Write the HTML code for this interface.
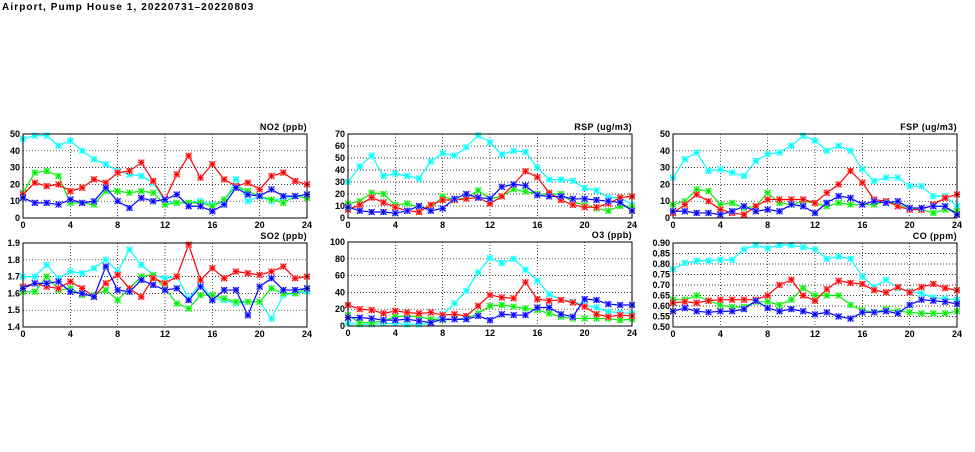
<!DOCTYPE html>
<html><head><meta charset="utf-8"><style>
body{margin:0;background:#fff;}
svg text{font-family:"Liberation Sans",sans-serif;font-weight:bold;font-size:9px;fill:#000;}
</style></head><body>
<svg id="s" width="975" height="447" xmlns="http://www.w3.org/2000/svg">
<text x="2" y="10" style="font-size:10px;letter-spacing:1.1px">Airport, Pump House 1, 20220731–20220803</text>
</svg>
<script>
const S=document.getElementById('s');const NS='http://www.w3.org/2000/svg';
function el(t,a,txt){const e=document.createElementNS(NS,t);for(const k in a)e.setAttribute(k,a[k]);if(txt!==undefined)e.textContent=txt;S.appendChild(e);return e;}
const cols={c:'#00ffff',g:'#00ee00',r:'#ff0000',b:'#0000ff'};
const light={c:'#aaffff',g:'#aaffaa',r:'#ffaaaa',b:'#aaaaff'};
const panels=[
{x0:23,x1:307,y0:134,y1:218,min:0,max:50,ticks:[0,10,20,30,40,50],fmt:v=>v,title:'NO2 (ppb)',
 d:{c:[47,49,49,43,46,40,35,32,28,26,25,21,10,9,9,10,8,9,23,10,13,10,12,13,12],
 g:[15,27,28,25,9,9,8,16,16,15,16,15,8,9,9,9,7,11,19,16,13,11,9,13,12],
 r:[14,21,19,20,16,18,23,21,27,28,33,22,11,26,37,24,32,23,19,21,17,25,27,22,20],
 b:[12,9,9,8,11,9,10,18,10,6,12,10,11,14,7,7,4,8,18,14,13,17,13,13,14]}},
{x0:348,x1:632,y0:134,y1:218,min:0,max:70,ticks:[0,10,20,30,40,50,60,70],fmt:v=>v,title:'RSP (ug/m3)',
 d:{c:[30,43,52,35,37,35,33,47,54,52,59,69,63,53,56,55,42,32,32,31,25,23,17,17,11],
 g:[12,14,21,20,11,12,9,8,18,15,17,23,16,18,24,22,20,20,20,13,11,8,6,10,9],
 r:[7,11,17,13,9,6,5,11,15,15,16,17,12,18,28,39,34,21,15,11,9,9,12,17,18],
 b:[9,6,5,5,4,6,10,6,8,16,20,17,16,26,28,27,19,18,18,16,16,15,14,13,6]}},
{x0:673,x1:957,y0:134,y1:218,min:0,max:50,ticks:[0,10,20,30,40,50],fmt:v=>v,title:'FSP (ug/m3)',
 d:{c:[24,35,39,28,29,27,25,34,38,39,43,49,46,40,43,40,29,22,24,24,19,19,13,13,7],
 g:[8,10,17,16,8,9,6,7,15,9,8,10,9,7,9,8,8,8,10,8,6,5,3,5,4],
 r:[3,8,14,10,5,3,2,7,11,11,11,11,9,15,20,28,21,11,10,7,5,5,8,12,14],
 b:[4,4,3,3,2,4,7,4,5,4,8,7,3,9,13,12,8,10,9,10,6,6,7,7,2]}},
{x0:23,x1:307,y0:243,y1:327,min:1.4,max:1.9,ticks:[1.4,1.5,1.6,1.7,1.8,1.9],fmt:v=>v.toFixed(1),title:'SO2 (ppb)',
 d:{c:[1.70,1.70,1.77,1.69,1.73,1.72,1.75,1.80,1.73,1.86,1.77,1.71,1.69,1.70,1.57,1.66,1.57,1.56,1.54,1.55,1.55,1.45,1.59,1.60,1.61],
 g:[1.61,1.61,1.70,1.62,1.63,1.59,1.59,1.62,1.56,1.63,1.70,1.71,1.63,1.54,1.51,1.59,1.59,1.57,1.55,1.55,1.55,1.63,1.60,1.60,1.63],
 r:[1.64,1.66,1.64,1.63,1.67,1.63,1.58,1.66,1.71,1.63,1.58,1.69,1.66,1.70,1.89,1.68,1.75,1.69,1.73,1.72,1.71,1.73,1.76,1.69,1.70],
 b:[1.63,1.66,1.66,1.67,1.61,1.60,1.58,1.76,1.62,1.61,1.68,1.65,1.62,1.63,1.56,1.64,1.56,1.62,1.62,1.47,1.64,1.69,1.62,1.62,1.63]}},
{x0:348,x1:632,y0:242,y1:326,min:0,max:100,ticks:[0,20,40,60,80,100],fmt:v=>v,title:'O3 (ppb)',
 d:{c:[3,2,2,3,3,2,2,3,14,27,42,64,81,75,80,67,54,38,31,29,25,22,17,16,15],
 g:[13,4,4,6,11,12,11,8,7,8,9,15,24,25,23,21,19,15,11,9,9,9,9,7,8],
 r:[25,20,19,15,18,16,15,16,13,14,12,24,37,34,33,52,32,30,31,28,23,14,11,13,12],
 b:[10,10,9,7,7,8,6,4,8,8,8,12,7,14,13,13,22,22,14,11,32,31,26,25,25]}},
{x0:673,x1:957,y0:243,y1:327,min:0.5,max:0.9,ticks:[0.5,0.55,0.6,0.65,0.7,0.75,0.8,0.85,0.9],fmt:v=>v.toFixed(2),title:'CO (ppm)',
 d:{c:[0.775,0.805,0.815,0.815,0.82,0.82,0.87,0.89,0.875,0.89,0.89,0.88,0.87,0.825,0.835,0.825,0.74,0.69,0.725,0.685,0.67,0.66,0.64,0.635,0.63],
 g:[0.63,0.63,0.65,0.625,0.605,0.595,0.595,0.62,0.62,0.605,0.63,0.685,0.65,0.65,0.65,0.605,0.58,0.57,0.585,0.575,0.57,0.565,0.565,0.565,0.575],
 r:[0.615,0.62,0.615,0.625,0.63,0.63,0.63,0.63,0.65,0.70,0.725,0.65,0.625,0.68,0.72,0.71,0.705,0.675,0.665,0.69,0.665,0.69,0.705,0.685,0.675],
 b:[0.575,0.59,0.575,0.57,0.575,0.575,0.585,0.625,0.59,0.575,0.585,0.575,0.56,0.57,0.55,0.54,0.57,0.57,0.575,0.565,0.605,0.63,0.625,0.62,0.61]}}
];
for(const p of panels){
 const X=i=>p.x0+(p.x1-p.x0)*i/24, Y=v=>p.y1-(p.y1-p.y0)*(v-p.min)/(p.max-p.min);
 for(const t of p.ticks){const y=Y(t);
  if(t!==p.min&&t!==p.max)el('line',{x1:p.x0,x2:p.x1,y1:y,y2:y,stroke:'#000','stroke-width':0.7,'stroke-dasharray':'1,2'});
  el('text',{x:p.x0-3,y:y+3,'text-anchor':'end'},p.fmt(t));}
 for(let h=0;h<=24;h+=4){const x=X(h);
  if(h>0&&h<24)el('line',{x1:x,x2:x,y1:p.y0,y2:p.y1,stroke:'#000','stroke-width':0.7,'stroke-dasharray':'1,2'});
  el('text',{x:x,y:p.y1+10,'text-anchor':'middle'},h);}
 for(const k of ['c','g','r','b']){const a=p.d[k];
  el('polyline',{points:a.map((v,i)=>X(i)+','+Y(v)).join(' '),fill:'none',stroke:cols[k],'stroke-width':1.2});
  a.forEach((v,i)=>{const x=X(i),y=Y(v);
   el('rect',{x:x-3,y:y-3,width:6,height:6,fill:light[k]});
   el('path',{d:`M${x-3} ${y-3}L${x+3} ${y+3}M${x-3} ${y+3}L${x+3} ${y-3}M${x} ${y-3}V${y+3}M${x-3} ${y}H${x+3}`,stroke:cols[k],'stroke-width':1});});}
 el('rect',{x:p.x0,y:p.y0,width:p.x1-p.x0,height:p.y1-p.y0,fill:'none',stroke:'#000','stroke-width':1});
 el('text',{x:p.x1,y:p.y0-4,'text-anchor':'end','letter-spacing':'0.4px'},p.title);
}
</script>
</body></html>
